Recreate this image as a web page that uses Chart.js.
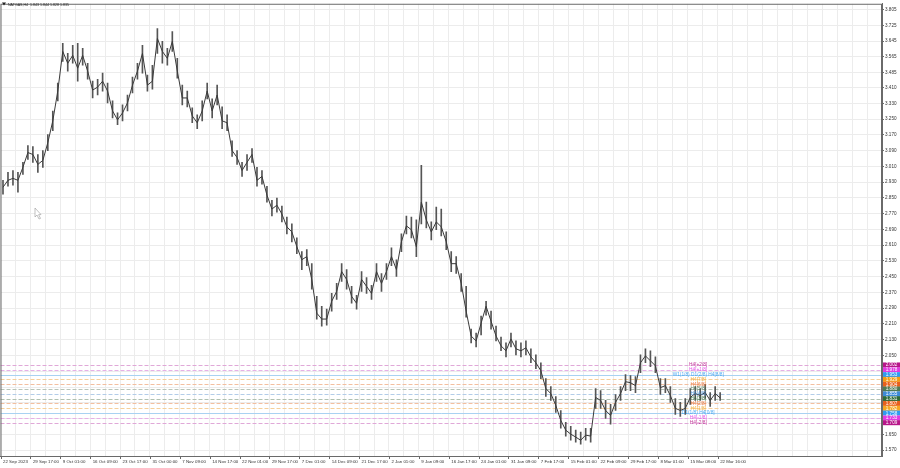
<!DOCTYPE html>
<html>
<head>
<meta charset="utf-8">
<script src="https://cdn.jsdelivr.net/npm/chart.js@4.4.1/dist/chart.umd.min.js"></script>
<style>
  html, body { margin: 0; padding: 0; background: #fff; }
</style>
</head>
<body>
<canvas id="chart" width="900" height="468"></canvas>
<script>
// ---- data ----
const dateLabels = ['22 Sep 2023', '29 Sep 17:00', '9 Oct 01:00', '16 Oct 09:00', '23 Oct 17:00',
  '31 Oct 00:00', '7 Nov 09:00', '14 Nov 17:00', '22 Nov 01:00', '29 Nov 17:00', '7 Dec 01:00',
  '14 Dec 09:00', '21 Dec 17:00', '2 Jan 01:00', '9 Jan 09:00', '16 Jan 17:00', '24 Jan 01:00',
  '31 Jan 09:00', '7 Feb 17:00', '15 Feb 01:00', '22 Feb 09:00', '29 Feb 17:00', '8 Mar 01:00',
  '15 Mar 08:00', '22 Mar 16:00'];

const priceTicks = [3.805, 3.725, 3.645, 3.565, 3.485, 3.410, 3.330, 3.250, 3.170, 3.090, 3.010,
  2.930, 2.850, 2.770, 2.690, 2.610, 2.530, 2.450, 2.370, 2.290, 2.210, 2.130, 2.050, 1.970,
  1.890, 1.810, 1.730, 1.650, 1.570];

const closes = [
  2.904, 2.939, 2.949, 2.939, 3.005, 3.080, 3.070, 3.020, 3.040, 3.130,
  3.241, 3.392, 3.593, 3.533, 3.573, 3.508, 3.573, 3.493, 3.397, 3.412,
  3.442, 3.392, 3.291, 3.246, 3.281, 3.332, 3.422, 3.493, 3.583, 3.422,
  3.442, 3.659, 3.593, 3.558, 3.644, 3.493, 3.357, 3.357, 3.266, 3.231,
  3.291, 3.392, 3.291, 3.372, 3.241, 3.231, 3.090, 3.055, 2.989, 3.030,
  3.070, 2.939, 2.959, 2.864, 2.793, 2.813, 2.768, 2.703, 2.677, 2.602,
  2.536, 2.552, 2.436, 2.265, 2.235, 2.235, 2.325, 2.375, 2.476, 2.436,
  2.350, 2.315, 2.436, 2.401, 2.365, 2.476, 2.416, 2.476, 2.552, 2.486,
  2.627, 2.708, 2.688, 2.602, 2.828, 2.738, 2.677, 2.728, 2.703, 2.627,
  2.516, 2.516, 2.416, 2.275, 2.149, 2.124, 2.214, 2.300, 2.224, 2.149,
  2.099, 2.074, 2.134, 2.084, 2.074, 2.089, 2.043, 2.013, 1.973, 1.882,
  1.857, 1.797, 1.721, 1.671, 1.651, 1.636, 1.620, 1.646, 1.641, 1.837,
  1.822, 1.771, 1.746, 1.812, 1.857, 1.917, 1.912, 1.897, 2.013, 2.048,
  2.023, 1.998, 1.887, 1.897, 1.847, 1.782, 1.771, 1.782, 1.837, 1.857,
  1.847, 1.862, 1.822, 1.857, 1.835
];

const highs = [
  2.939, 2.979, 2.989, 2.979, 3.030, 3.115, 3.110, 3.070, 3.090, 3.171,
  3.291, 3.432, 3.634, 3.583, 3.624, 3.634, 3.609, 3.533, 3.442, 3.452,
  3.483, 3.432, 3.342, 3.281, 3.322, 3.372, 3.463, 3.533, 3.624, 3.473,
  3.523, 3.709, 3.644, 3.609, 3.694, 3.558, 3.422, 3.392, 3.307, 3.271,
  3.342, 3.432, 3.352, 3.422, 3.312, 3.271, 3.140, 3.090, 3.030, 3.070,
  3.100, 3.005, 2.989, 2.909, 2.838, 2.849, 2.808, 2.753, 2.718, 2.647,
  2.577, 2.587, 2.516, 2.350, 2.300, 2.285, 2.365, 2.416, 2.516, 2.486,
  2.401, 2.355, 2.476, 2.446, 2.406, 2.516, 2.466, 2.516, 2.597, 2.536,
  2.667, 2.758, 2.753, 2.738, 3.015, 2.828, 2.728, 2.803, 2.793, 2.677,
  2.577, 2.552, 2.466, 2.401, 2.184, 2.164, 2.250, 2.325, 2.275, 2.199,
  2.144, 2.114, 2.164, 2.124, 2.114, 2.124, 2.084, 2.053, 2.013, 1.933,
  1.892, 1.842, 1.771, 1.711, 1.691, 1.671, 1.661, 1.681, 1.681, 1.882,
  1.872, 1.822, 1.802, 1.852, 1.892, 1.953, 1.948, 1.943, 2.053, 2.084,
  2.074, 2.043, 1.933, 1.933, 1.892, 1.832, 1.812, 1.832, 1.882, 1.892,
  1.882, 1.902, 1.862, 1.892, 1.862
];

const lows = [
  2.869, 2.909, 2.914, 2.879, 2.969, 3.045, 3.030, 2.979, 3.005, 3.090,
  3.191, 3.342, 3.543, 3.493, 3.533, 3.442, 3.523, 3.452, 3.357, 3.372,
  3.392, 3.332, 3.256, 3.221, 3.241, 3.291, 3.382, 3.452, 3.483, 3.392,
  3.402, 3.583, 3.533, 3.523, 3.593, 3.458, 3.322, 3.312, 3.231, 3.201,
  3.241, 3.352, 3.256, 3.322, 3.201, 3.191, 3.060, 3.020, 2.959, 2.989,
  3.030, 2.909, 2.919, 2.828, 2.758, 2.778, 2.728, 2.667, 2.627, 2.567,
  2.486, 2.506, 2.386, 2.235, 2.199, 2.204, 2.275, 2.335, 2.426, 2.386,
  2.315, 2.285, 2.375, 2.365, 2.335, 2.426, 2.375, 2.436, 2.506, 2.451,
  2.577, 2.667, 2.647, 2.552, 2.718, 2.698, 2.637, 2.688, 2.657, 2.587,
  2.476, 2.466, 2.375, 2.245, 2.114, 2.094, 2.154, 2.255, 2.184, 2.124,
  2.074, 2.043, 2.094, 2.053, 2.043, 2.053, 2.013, 1.983, 1.933, 1.842,
  1.822, 1.761, 1.681, 1.641, 1.620, 1.610, 1.600, 1.620, 1.610, 1.782,
  1.782, 1.731, 1.701, 1.771, 1.822, 1.872, 1.872, 1.862, 1.963, 2.013,
  1.993, 1.963, 1.852, 1.862, 1.812, 1.751, 1.741, 1.751, 1.802, 1.822,
  1.822, 1.832, 1.792, 1.822, 1.822
];

// murrey levels on the right
const levelValues = [2.002, 1.978, 1.953, 1.929, 1.904, 1.880, 1.855, 1.831, 1.807, 1.782, 1.758, 1.733, 1.709];
const levelNames = ['H4[+2/8]', 'H4[+1/8]', 'W1(1/8) D1(2/8) H4[8/8]', 'H4[7/8]', 'H4[6/8]', 'H4[5/8]',
  'H4[4/8]', 'H4[3/8]', 'H4[2/8]', 'H4[1/8]', 'D1(1/8) H4[0/8]', 'H4[-1/8]', 'H4[-2/8]'];

const titleText = 'NATGAS,H4  1.843 1.844 1.828 1.835';

// ---- styling ----
const SLOTS = 177;
const boxColors = ['#b8178a', '#e03ce0', '#2f9bf0', '#f39c12', '#e8601c', '#4f7a55', '#3d8bd8',
  '#2e6b3a', '#e8601c', '#f5a623', '#2f9bf0', '#e03ce0', '#b8178a'];
const lineColors = ['#e0a8d8', '#e6b0e6', '#a9d2f2', '#f5cf9a', '#f3bfa0', '#b8c4b8', '#b3cce8',
  '#b0c0b0', '#f3bfa0', '#f5cf9a', '#a9d2f2', '#e6b0e6', '#e0a8d8'];
const solidLevel = [false, false, true, false, false, false, false, false, false, false, true, false, false];

const categories = [];
for (let i = 0; i < SLOTS; i++) {
  categories.push(i % 6 === 0 && dateLabels[i / 6] ? dateLabels[i / 6] : '');
}

const overlay = {
  id: 'overlay',
  beforeDatasetsDraw(chart) {
    const { ctx, chartArea, scales } = chart;
    ctx.save();
    ctx.lineWidth = 1;
    levelValues.forEach((v, i) => {
      const y = Math.round(scales.y.getPixelForValue(v)) + 0.5;
      ctx.strokeStyle = lineColors[i];
      ctx.setLineDash(solidLevel[i] ? [] : [4, 2]);
      ctx.beginPath();
      ctx.moveTo(chartArea.left, y);
      ctx.lineTo(chartArea.right, y);
      ctx.stroke();
    });
    ctx.restore();
  },
  afterDatasetsDraw(chart) {
    const { ctx, scales } = chart;
    ctx.save();
    ctx.font = '4.8px "Liberation Sans"';
    ctx.textAlign = 'center';
    ctx.textBaseline = 'middle';
    const cx = scales.x.getPixelForValue(139.6);
    levelValues.forEach((v, i) => {
      ctx.fillStyle = boxColors[i];
      ctx.globalAlpha = 0.85;
      ctx.fillText(levelNames[i], cx, scales.y.getPixelForValue(v));
    });
    ctx.restore();
  },
  afterDraw(chart) {
    const { ctx, chartArea, scales } = chart;
    ctx.save();
    // frame
    ctx.strokeStyle = '#6a6a6a';
    ctx.lineWidth = 1;
    ctx.strokeRect(chartArea.left + 0.5, chartArea.top + 0.5, chartArea.right - chartArea.left - 1, chartArea.bottom - chartArea.top);
    // x tick marks
    for (let i = 0; i < SLOTS; i += 6) {
      if (!categories[i]) continue;
      const x = Math.round(scales.x.getPixelForValue(i) - 2.5) + 0.5;
      ctx.beginPath();
      ctx.moveTo(x, chartArea.bottom);
      ctx.lineTo(x, chartArea.bottom + 3);
      ctx.stroke();
    }
    // coloured price boxes on the axis
    ctx.font = '4.6px "Liberation Sans"';
    ctx.textAlign = 'center';
    ctx.textBaseline = 'middle';
    levelValues.forEach((v, i) => {
      const y = scales.y.getPixelForValue(v);
      ctx.fillStyle = boxColors[i];
      ctx.fillRect(chartArea.right + 1, y - 2.5, 17, 5);
      ctx.fillStyle = '#fff';
      ctx.fillText(v.toFixed(3), chartArea.right + 9.5, y + 0.2);
    });
    // title
    ctx.fillStyle = '#222';
    ctx.beginPath();
    ctx.moveTo(2, 2.5); ctx.lineTo(6, 2.5); ctx.lineTo(4, 5.5); ctx.closePath();
    ctx.fill();
    ctx.font = '3.6px "Liberation Sans"';
    ctx.textAlign = 'left';
    ctx.fillText(titleText, 8, 4.5);
    // mouse cursor
    ctx.beginPath();
    ctx.moveTo(35, 208); ctx.lineTo(35, 217); ctx.lineTo(37, 215); ctx.lineTo(39, 219);
    ctx.lineTo(40.5, 218.4); ctx.lineTo(38.6, 214.6); ctx.lineTo(41, 214.6); ctx.closePath();
    ctx.fillStyle = '#fff';
    ctx.fill();
    ctx.strokeStyle = '#999';
    ctx.lineWidth = 0.6;
    ctx.stroke();
    ctx.restore();
  }
};

new Chart(document.getElementById('chart'), {
  type: 'bar',
  data: {
    labels: categories,
    datasets: [
      {
        type: 'line',
        data: closes,
        borderColor: '#3a3a3a',
        borderWidth: 1,
        pointRadius: 0,
        tension: 0,
        order: 1
      },
      {
        type: 'bar',
        data: lows.map((l, i) => [l, highs[i]]),
        backgroundColor: '#555',
        barThickness: 1,
        borderWidth: 0,
        order: 2
      }
    ]
  },
  plugins: [overlay],
  options: {
    responsive: false,
    animation: false,
    layout: { padding: 0 },
    plugins: { legend: { display: false }, tooltip: { enabled: false } },
    scales: {
      x: {
        type: 'category',
        offset: true,
        afterFit: s => { s.height = 12; },
        grid: {
          offset: true,
          drawTicks: false,
          color: c => (c.index % 3 === 0 ? '#ececec' : 'rgba(0,0,0,0)')
        },
        border: { color: '#6a6a6a' },
        ticks: {
          autoSkip: false,
          maxRotation: 0,
          align: 'start',
          padding: 3,
          color: '#333',
          font: { family: 'Liberation Sans', size: 4.4 },
          callback: (v, i) => categories[i]
        }
      },
      y: {
        position: 'right',
        min: 1.540,
        max: 3.835,
        afterFit: s => { s.width = 18; },
        afterBuildTicks: s => { s.ticks = priceTicks.map(v => ({ value: v })); },
        grid: { color: '#ececec', tickLength: 2, tickColor: '#6a6a6a' },
        border: { color: '#6a6a6a' },
        ticks: {
          padding: 1,
          color: '#333',
          font: { family: 'Liberation Sans', size: 4.6 },
          callback: v => v.toFixed(3)
        }
      }
    }
  }
});
</script>
</body>
</html>
